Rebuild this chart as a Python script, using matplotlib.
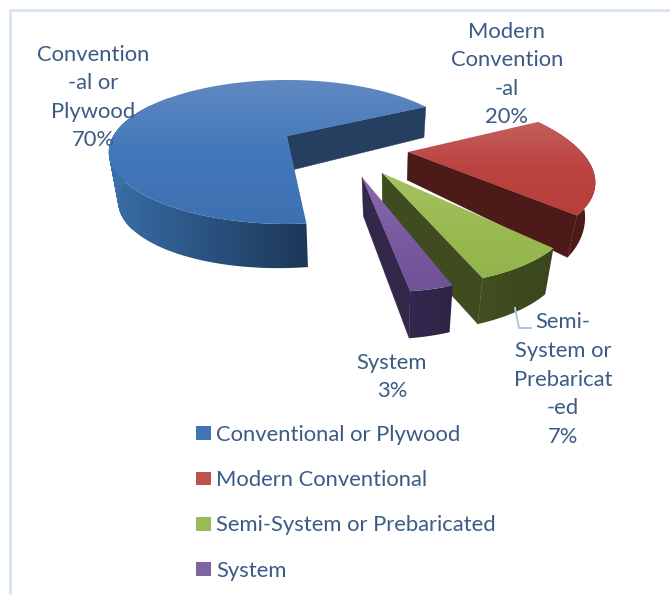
import numpy as np
import matplotlib
matplotlib.use('Agg')
import matplotlib.pyplot as plt
from matplotlib.patches import Patch, Polygon
from matplotlib.colors import LinearSegmentedColormap

categories = ['Conventional or Plywood', 'Modern Conventional', 'Semi-System or Prebaricated', 'System']
values = [70, 20, 7, 3]
data_labels = ['Convention\n-al or\nPlywood\n70%', 'Modern\nConvention\n-al\n20%',
               'Semi-\nSystem or\nPrebaricat\n-ed\n7%', 'System\n3%']

# styles
top_colors = [['#6089c0', '#4378bb', '#3d70b0'], ['#c4605c', '#bb4340', '#b83e3b'],
              ['#a6c262', '#9aba52', '#93b34c'], ['#8c6bb0', '#7a5aa0', '#6f5196']]
wall_colors = [['#3a6fa8', '#2a5280', '#1c3757'], ['#5a1f1c', '#4a1917'], ['#414f22', '#3a461c'], ['#352850', '#2e2344']]
radial_colors = ['#243f60', '#4c1a18', '#3f4c20', '#33274a']
legend_colors = ['#4375b5', '#c0504d', '#9bbb59', '#8064a2']
text_color = '#3b5b86'
frame_color = '#d6e4f4'

# ground offsets of the exploded slices, wall depth (d0, y0, slope), slice fit to the perspective
explode = [(0, 0), (0.663, -0.222), (0.489, -0.483), (0.381, -0.529)]
depth = [(34, 136, 0.115), (28, 152, 0.22), (46, 245, 0.0), (39, 177, 0.07)]
slice_scale = [(1, 1), (0.95, 0.98), (0.935, 0.98), (0.92, 0.98)]
slice_rot = [-2, 1.5, 0, -1]
sweep_fit = [0.98, 1, 1, 1]
start_deg = 277

# perspective of the pie top (pixels)
cx, cy, gx, by, kk, apex_up = 287, 152, 173.6, 72, 0.222, 16


def project(X, Y):
    w = 1 + kk*Y
    return cx + gx*X/w, cy - (by*Y + apex_up)/w


def wall_bottom(x, y, d):
    x0, s = 390, 0.95
    return x0 + s*(x - x0), y + d[0] + d[2]*(y - d[1])


def gradient_patch(ax, pts, colors, z, horizontal=False):
    pts = np.asarray(pts)
    poly = Polygon(pts, closed=True, fc='none', ec='none', zorder=z)
    ax.add_patch(poly)
    cmap = LinearSegmentedColormap.from_list('g', colors)
    grad = np.linspace(0, 1, 256)
    grad = grad.reshape(1, -1) if horizontal else grad.reshape(-1, 1)
    im = ax.imshow(grad, cmap=cmap, aspect='auto', zorder=z,
                   extent=[pts[:, 0].min() - 1, pts[:, 0].max() + 1, pts[:, 1].max() + 1, pts[:, 1].min() - 1])
    im.set_clip_path(poly)


fig = plt.figure(figsize=(6.7, 5.95), dpi=100)
ax = fig.add_axes([0, 0, 1, 1])
plt.rcParams['font.family'] = ['Lato', 'DejaVu Sans']

ang = start_deg
for i, v in enumerate(values):
    sweep = v/sum(values)*360
    a0 = ang + slice_rot[i]
    th = np.radians(np.linspace(a0, a0 - sweep*sweep_fit[i], max(int(sweep), 12)))
    ang -= sweep
    ex, ey = explode[i]
    ax_, ay_ = project(ex, ey)
    X, Y = project(np.cos(th) + ex, np.sin(th) + ey)
    X = ax_ + (X - ax_)*slice_scale[i][0]
    Y = ay_ + (Y - ay_)*slice_scale[i][1]
    # radial wall on the clockwise end, the other one is hidden by the top
    bx, by_ = wall_bottom(np.array([ax_, X[-1]]), np.array([ay_, Y[-1]]), depth[i])
    ax.add_patch(Polygon([(ax_, ay_), (X[-1], Y[-1]), (bx[1], by_[1]), (bx[0], by_[0])],
                         fc=radial_colors[i], ec=radial_colors[i], lw=0.3, zorder=2*i + 1))
    # outer wall, the big slice gets deeper towards the left and only its front shows
    if i == 0:
        front = np.degrees(th) > 140
        BX, BY = 345 + 0.96*(X[front] - 345), Y[front] + 44 - 6*np.cos(th[front])
        wall = np.column_stack([np.r_[X[front], BX[::-1]], np.r_[Y[front], BY[::-1]]])
        # the silhouette at the far left, where the top and bottom arcs cross
        Xf, Yf, thf = X[front], Y[front], np.degrees(th[front])
        for j in np.where((thf > 150) & (thf < 215))[0][:-1]:
            ax.add_patch(Polygon([(Xf[j], Yf[j]), (Xf[j+1], Yf[j+1]), (BX[j+1], BY[j+1]), (BX[j], BY[j])],
                                 fc=wall_colors[0][0], ec=wall_colors[0][0], lw=0.3, zorder=1.2))
    else:
        BX, BY = wall_bottom(X, Y, depth[i])
        wall = np.column_stack([np.r_[X, BX[::-1]], np.r_[Y, BY[::-1]]])
    gradient_patch(ax, wall, wall_colors[i], 2*i + 1.5, horizontal=True)
    # top face
    top = np.column_stack([np.r_[ax_, X], np.r_[ay_, Y]])
    gradient_patch(ax, top, top_colors[i], 2*i + 2)

ax.set_xlim(0, 670)
ax.set_ylim(595, 0)
ax.axis('off')

# frame
ax.plot([9.5, 9.5, 670], [595, 9.5, 9.5], color=frame_color, lw=2)

# data labels
fs = 15.8
label_xy = [(93, 97.5), (507, 74.5), (563, 379.5), (392, 377)]
for s, (lx, ly) in zip(data_labels, label_xy):
    ax.text(lx, ly, s, ha='center', va='center', ma='center', fontsize=fs, color=text_color,
            linespacing=1.54, zorder=20)
ax.plot([515, 519, 531], [308, 328, 328], color='#a9c6e8', lw=1.4, zorder=15)

handles = [Patch(fc=c, ec='none') for c in legend_colors]
ax.legend(handles, categories, loc='upper left', bbox_to_anchor=(196/670, 1 - 425/595), frameon=False,
          fontsize=fs, labelcolor=text_color, handlelength=0.68, handleheight=0.6, handletextpad=0.23,
          labelspacing=1.15, borderaxespad=0, borderpad=0)

fig.savefig('out.png', dpi=100)
